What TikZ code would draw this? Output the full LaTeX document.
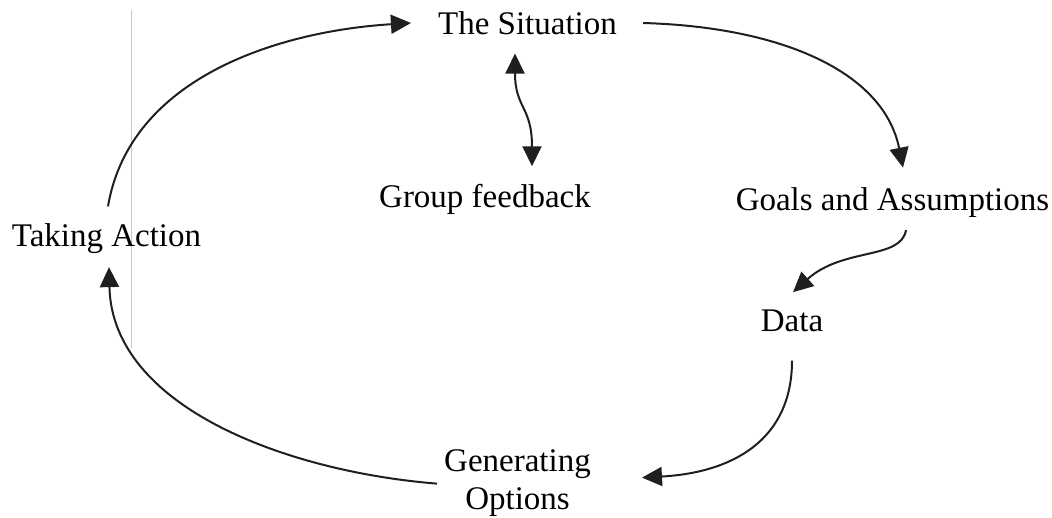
\documentclass[tikz,border=0pt]{standalone}
\usepackage{fontspec}
\setmainfont{Liberation Serif}
\usetikzlibrary{arrows.meta,calc}
\begin{document}
\begin{tikzpicture}[x=1pt,y=1pt,
  lbl/.style={inner sep=0pt, anchor=base, font=\fontsize{33}{38}\selectfont},
  flow/.style={line width=2pt, draw=black!88,
    -{Triangle[length=20pt,width=19pt]}},
  twoway/.style={line width=2pt, draw=black!88,
    {Triangle[length=20pt,width=19pt]}-{Triangle[length=20pt,width=19pt]}},
]
\useasboundingbox (0,0) rectangle (1052,518);

% faint vertical rule on the left
\draw[black!22, line width=0.9pt] (131,508) -- (131,170);

% labels of the cycle
\node[lbl] (sit)   at (527.5,483) {The Situation};
\node[lbl] (fb)    at (485,310)   {Group feedback};
\node[lbl] (goals) at (892.5,307) {Goals and Assumptions};
\node[lbl] (act)   at (106.5,271) {Taking Action};
\node[lbl] (data)  at (792,186)   {Data};
\node[lbl, align=center, anchor=north] (gen) at (517.5,68.7) {Generating\\Options};

% cycle arrows
\draw[flow] ($(act.north)+(1.5,17.5)$) .. controls +(22,130) and +(-130,-8) .. ($(sit.west)+(-27,0.7)$);
\draw[flow] ($(sit.east)+(26,0.7)$) .. controls +(140,-4) and +(-19,95) .. ($(goals.north)+(10.5,20.3)$);
\draw[flow] ($(goals.south)+(13.5,-11.8)$) .. controls +(-5,-30) and +(50,45) .. ($(data.north)+(1,18)$);
\draw[flow] ($(data.south)+(0,-28)$) .. controls +(0,-80) and +(90,5) .. ($(gen.east)+(51,5.3)$);
\draw[flow] ($(gen.west)+(-7,-0.7)$) .. controls +(-150,12) and +(3,-140) .. ($(act.south)+(2.5,-12.8)$);

% feedback link
\draw[twoway] ($(sit.south)+(-12.5,-18)$) .. controls +(0,-55) and +(0,60) .. ($(fb.north)+(47,18.3)$);
\end{tikzpicture}
\end{document}
